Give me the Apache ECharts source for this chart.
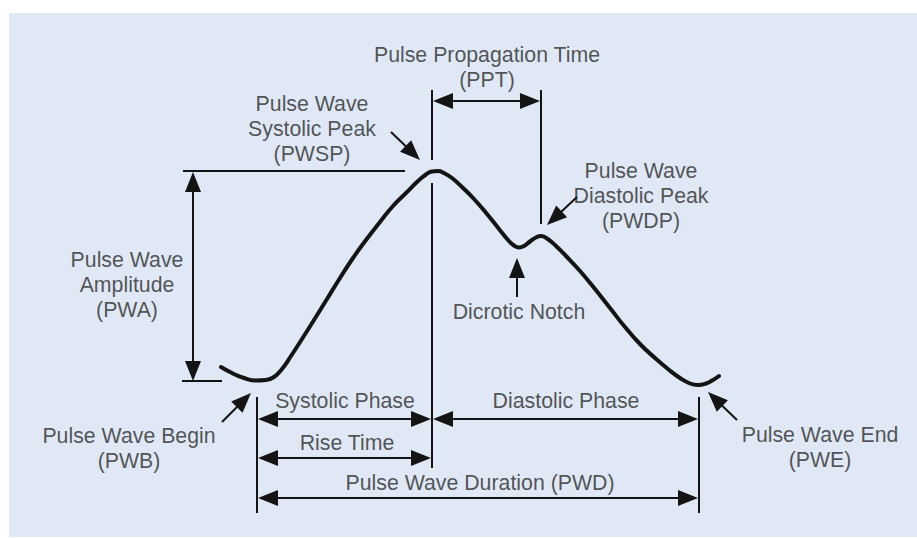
<!DOCTYPE html>
<html>
<head>
<meta charset="utf-8">
<script src="https://cdn.jsdelivr.net/npm/echarts@6/dist/echarts.min.js"></script>
<style>
html,body{margin:0;padding:0;background:#ffffff;}
#chart{width:917px;height:538px;}
</style>
</head>
<body>
<div id="chart"></div>
<script>
// Pulse waveform (diagram units, x = time, y = signal drawn downward)
const curveX = [221, 232, 244, 256, 266, 274, 282, 291, 302, 314, 327, 340, 353, 366, 380, 393, 406, 418, 426, 432, 438, 444, 452, 462, 474, 487, 499, 508, 514, 519, 524, 530, 536, 541, 547, 556, 566, 580, 595, 610, 625, 640, 655, 668, 680, 690, 698, 706, 713, 719];
const curveY = [367, 373, 378, 380.5, 380, 377, 369, 356, 339, 320, 299, 278, 258, 240, 222, 206, 193, 181, 174.5, 171.5, 171, 173, 178, 187, 199, 214, 229, 240, 245.5, 247.5, 246, 241.5, 237.5, 236, 238.5, 246, 256, 271, 289, 308, 327, 344, 358, 369, 378, 383.5, 385, 383.5, 380, 376];

// Plain reference lines: [x1, y1, x2, y2]
const refLines = [
  [183, 171, 405, 171],   // systolic peak level
  [182, 381, 222, 381],   // baseline level
  [432, 90, 432, 160],    // PPT start marker (upper)
  [432, 183, 432, 468],   // systolic phase end marker
  [541, 90, 541, 224],    // PPT end marker
  [257, 397, 257, 513],   // pulse begin marker
  [699, 397, 699, 513]    // pulse end marker
];

// Arrows: [x1, y1, x2, y2, headAtStart, headAtEnd]
const arrows = [
  [193, 172, 193, 381, 1, 1],  // PWA
  [433, 101, 540, 101, 1, 1],  // PPT
  [258, 419, 431, 419, 1, 1],  // Systolic phase
  [433, 419, 698, 419, 1, 1],  // Diastolic phase
  [258, 458, 431, 458, 1, 1],  // Rise time
  [258, 498, 698, 498, 1, 1],  // PWD
  [391, 132, 420, 160, 0, 1],  // PWSP pointer
  [577, 197, 547, 225, 0, 1],  // PWDP pointer
  [517, 297, 517, 258, 0, 1],  // Dicrotic notch pointer
  [222, 422, 251, 393, 0, 1],  // PWB pointer
  [737, 420, 708, 392, 0, 1]   // PWE pointer
];

// Text labels: [x, y, text]
const labels = [
  [487, 55, 'Pulse Propagation Time'],
  [487, 80, '(PPT)'],
  [312, 129, 'Pulse Wave\nSystolic Peak\n(PWSP)'],
  [641, 196, 'Pulse Wave\nDiastolic Peak\n(PWDP)'],
  [519, 312, 'Dicrotic Notch'],
  [127, 285, 'Pulse Wave\nAmplitude\n(PWA)'],
  [129, 448, 'Pulse Wave Begin\n(PWB)'],
  [345, 401, 'Systolic Phase'],
  [347, 443, 'Rise Time'],
  [480, 483, 'Pulse Wave Duration (PWD)'],
  [566, 401, 'Diastolic Phase'],
  [820, 447, 'Pulse Wave End\n(PWE)']
];

const HEAD_LEN = 20, HEAD_W = 16;
const INK = '#141414', TEXT = '#2c2c2c';

function shorten(x1, y1, x2, y2, d) {
  const dx = x2 - x1, dy = y2 - y1, L = Math.hypot(dx, dy);
  return [x2 - dx / L * d, y2 - dy / L * d];
}

const markData = [];
refLines.forEach(l => {
  markData.push([{coord: [l[0], l[1]], symbol: 'none'}, {coord: [l[2], l[3]], symbol: 'none'}]);
});
arrows.forEach(a => {
  let s = [a[0], a[1]], e = [a[2], a[3]];
  if (a[4]) s = shorten(a[2], a[3], a[0], a[1], HEAD_LEN / 2);
  if (a[5]) e = shorten(a[0], a[1], a[2], a[3], HEAD_LEN / 2);
  markData.push([
    {coord: s, symbol: a[4] ? 'triangle' : 'none', symbolSize: [HEAD_W, HEAD_LEN]},
    {coord: e, symbol: a[5] ? 'triangle' : 'none', symbolSize: [HEAD_W, HEAD_LEN]}
  ]);
});

const chart = echarts.init(document.getElementById('chart'), null, {renderer: 'svg'});
chart.setOption({
  animation: false,
  backgroundColor: '#ffffff',
  grid: {left: 9, top: 13, right: 0, bottom: 1, show: true, backgroundColor: '#dfe8f4', borderWidth: 0},
  xAxis: {type: 'value', min: 9, max: 917, show: false},
  yAxis: {type: 'value', min: 13, max: 537, inverse: true, show: false},
  series: [
    {
      name: 'pulse', type: 'line', smooth: 0.5, symbol: 'none', silent: true,
      data: curveX.map((x, i) => [x, curveY[i]]),
      lineStyle: {color: INK, width: 4, cap: 'round', join: 'round'}
    },
    {
      name: 'annotations', type: 'line', data: [], silent: true,
      markLine: {
        silent: true, animation: false,
        label: {show: false},
        lineStyle: {color: INK, width: 2, type: 'solid'},
        itemStyle: {color: INK},
        emphasis: {disabled: true},
        data: markData
      }
    },
    {
      name: 'labels', type: 'scatter', symbolSize: 0, silent: true,
      data: labels.map(t => ({value: [t[0], t[1]], name: t[2]})),
      label: {
        show: true, position: 'inside', formatter: '{b}',
        color: TEXT, fontFamily: 'Liberation Sans, Arial, sans-serif', fontSize: 21.3,
        lineHeight: 25, align: 'center', verticalAlign: 'middle'
      }
    }
  ]
});
</script>
</body>
</html>
